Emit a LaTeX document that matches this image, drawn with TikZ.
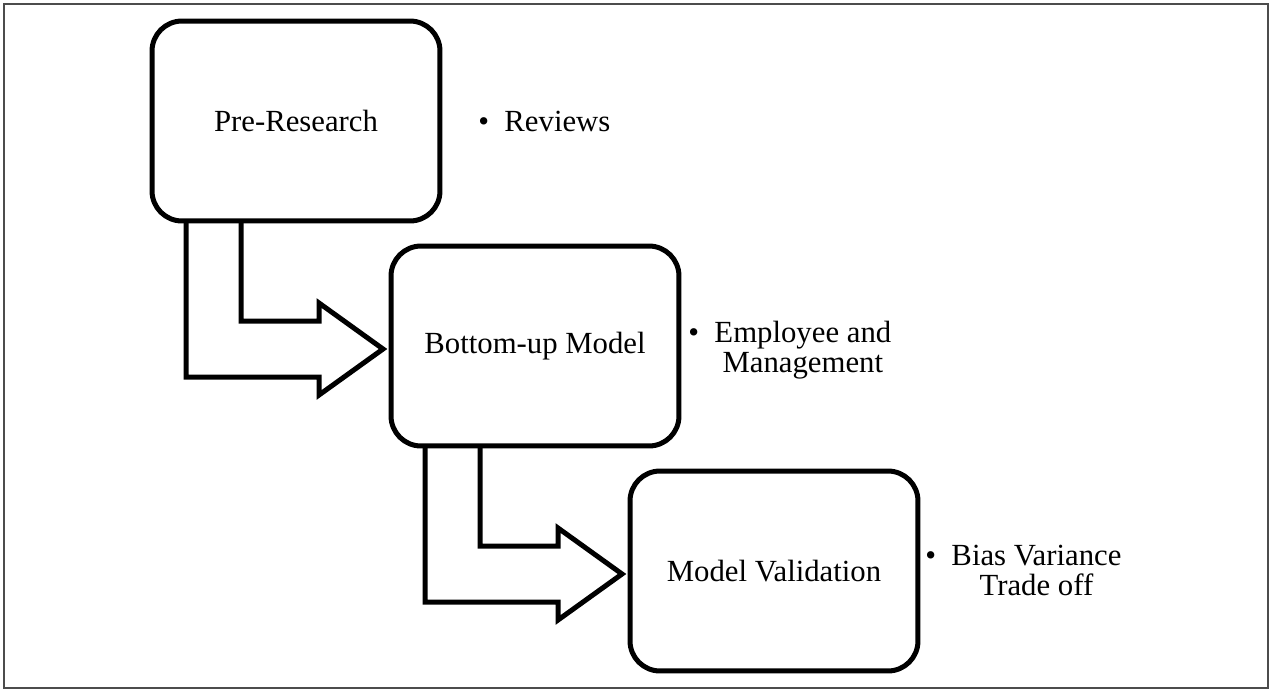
\documentclass[tikz,border=0pt]{standalone}
\usepackage{fontspec}
\setmainfont{Liberation Serif}
\usetikzlibrary{calc}

\tikzset{
    etape/.style={draw, rounded corners=0.6cm, line width=0.1cm, outer sep=0pt,
        minimum width=5.76cm, minimum height=4cm, font=\fontsize{17.5}{18}\selectfont},
    fleche/.style={line width=0.1cm, line join=miter},
    puce/.style={inner sep=0pt, anchor=base west, font=\fontsize{17.5}{17.6}\selectfont}
}

\begin{document}
\begin{tikzpicture}[x=0.02cm, y=-0.02cm]
\useasboundingbox (0,0) rectangle (1272,691);

% Cadre autour du schéma
\draw[black!70, line width=0.7pt] (4,4) rectangle (1268,688);

% Les trois étapes, en escalier
\foreach \x/\y/\nom/\texte in {296/121/pre/Pre-Research, 535/346/bot/Bottom-up Model, 774/571/val/Model Validation}{
    \node[etape] (\nom) at (\x, \y) {\texte};
}

% Flèches coudées entre deux étapes
\foreach \source/\dest in {pre/bot, bot/val}{
    \draw[fleche] ($(\source.south west)+(34,0)$) |- ($(\dest.west)+(-72,31)$)
        -- ++(0,18) -- ($(\dest.west)+(-8,3)$) -- ++(-64,-46) -- ++(0,18)
        -| ($(\source.south west)+(89,0)$);
}

% Commentaires à droite de chaque étape
\node[puce] (rev) at (478,131) {\textbullet\enspace Reviews};
\node[puce] (emp) at (688,342) {\textbullet\enspace\begin{tabular}[t]{@{}c@{}}Employee and\\Management\end{tabular}};
\node[puce] (bias) at (925,565) {\textbullet\enspace\begin{tabular}[t]{@{}c@{}}Bias Variance\\Trade off\end{tabular}};
\end{tikzpicture}
\end{document}
